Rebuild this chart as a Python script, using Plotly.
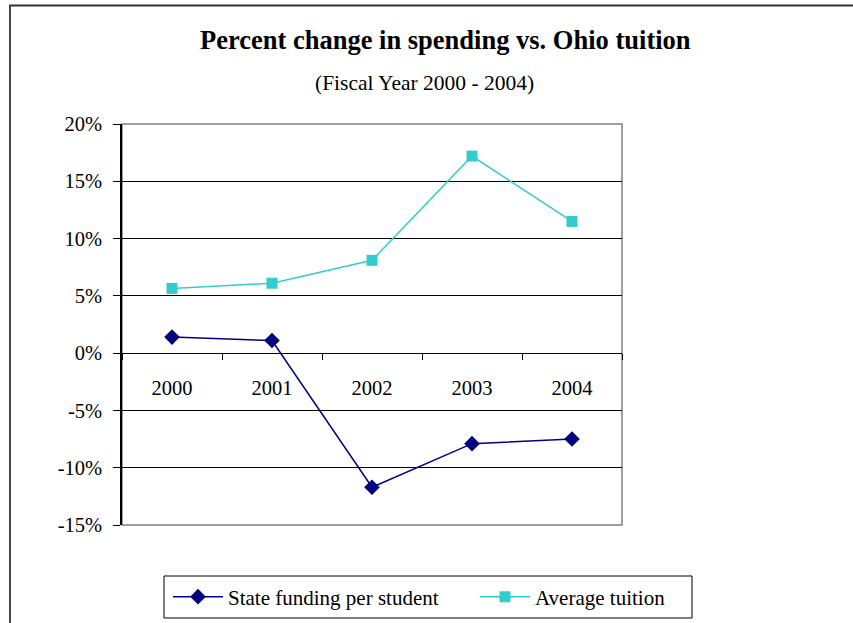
import plotly.graph_objects as go

years = ["2000", "2001", "2002", "2003", "2004"]
state_funding = [1.4, 1.1, -11.7, -7.9, -7.5]
avg_tuition = [5.65, 6.1, 8.1, 17.2, 11.5]
y_ticks = [-15, -10, -5, 0, 5, 10, 15, 20]
y_tick_labels = ["-15%", "-10%", "-5%", "0%", "5%", "10%", "15%", "20%"]

FONT = "Liberation Serif, Times New Roman, serif"
W, H = 853, 623
L, R, T, B = 122, 231, 124, 98
PW, PH = W - L - R, H - T - B


def px_x(p):
    return (p - L) / PW


def px_y(p):
    return (H - B - p) / PH


fig = go.Figure()
fig.add_trace(go.Scatter(
    x=years, y=state_funding, name="State funding per student",
    mode="lines+markers", legend="legend",
    line=dict(color="#000080", width=1.5),
    marker=dict(symbol="diamond", size=12, color="#000080"),
))
fig.add_trace(go.Scatter(
    x=years, y=avg_tuition, name="Average tuition",
    mode="lines+markers", legend="legend2",
    line=dict(color="#33CCCC", width=1.5),
    marker=dict(symbol="square", size=11, color="#33CCCC"),
))

legend_common = dict(
    orientation="h", xanchor="left", yanchor="middle",
    y=px_y(597), borderwidth=0, bgcolor="rgba(0,0,0,0)",
    itemwidth=50,
    font=dict(family=FONT, size=21, color="black"),
)

fig.update_layout(
    width=W, height=H,
    margin=dict(l=L, r=R, t=T, b=B, autoexpand=False),
    paper_bgcolor="white", plot_bgcolor="white",
    font=dict(family=FONT, size=21, color="black"),
    showlegend=True,
    legend=dict(x=px_x(168), **legend_common),
    legend2=dict(x=px_x(475), **legend_common),
    xaxis=dict(
        type="category", range=[-0.5, 4.5],
        anchor="free", position=px_y(353.3),
        showline=True, linecolor="black", linewidth=1,
        ticks="outside", ticklen=6, tickcolor="black", tickson="boundaries",
        showgrid=False, zeroline=False,
        tickfont=dict(family=FONT, size=20.5, color="black"),
        ticklabelstandoff=16,
    ),
    yaxis=dict(
        range=[-15, 20], tickvals=y_ticks, ticktext=y_tick_labels,
        showline=True, linecolor="black", linewidth=1.5,
        ticks="outside", ticklen=7, tickcolor="black",
        showgrid=True, gridcolor="black", gridwidth=1,
        zeroline=False,
        tickfont=dict(family=FONT, size=20.5, color="black"),
        ticklabelstandoff=7,
    ),
    shapes=[
        dict(type="rect", xref="paper", yref="paper",
             x0=0, x1=1, y0=0, y1=1,
             line=dict(color="#808080", width=1.5), layer="below"),
        dict(type="rect", xref="paper", yref="paper",
             x0=px_x(10), x1=px_x(870), y0=px_y(640), y1=px_y(5.5),
             line=dict(color="#333333", width=1.8)),
        dict(type="rect", xref="paper", yref="paper",
             x0=px_x(164), x1=px_x(692), y0=px_y(618), y1=px_y(576),
             line=dict(color="black", width=1)),
    ],
    annotations=[
        dict(text="<b>Percent change in spending vs. Ohio tuition</b>",
             xref="paper", yref="paper", x=px_x(445), y=px_y(40),
             xanchor="center", yanchor="middle", showarrow=False,
             font=dict(family=FONT, size=26.5, color="black")),
        dict(text="(Fiscal Year 2000 - 2004)",
             xref="paper", yref="paper", x=px_x(424.5), y=px_y(83),
             xanchor="center", yanchor="middle", showarrow=False,
             font=dict(family=FONT, size=21.5, color="black")),
    ],
)

fig.write_html(
    "out.html",
    config={"displayModeBar": False},
    post_script="document.body.style.margin='0';document.body.style.overflow='hidden';",
)
